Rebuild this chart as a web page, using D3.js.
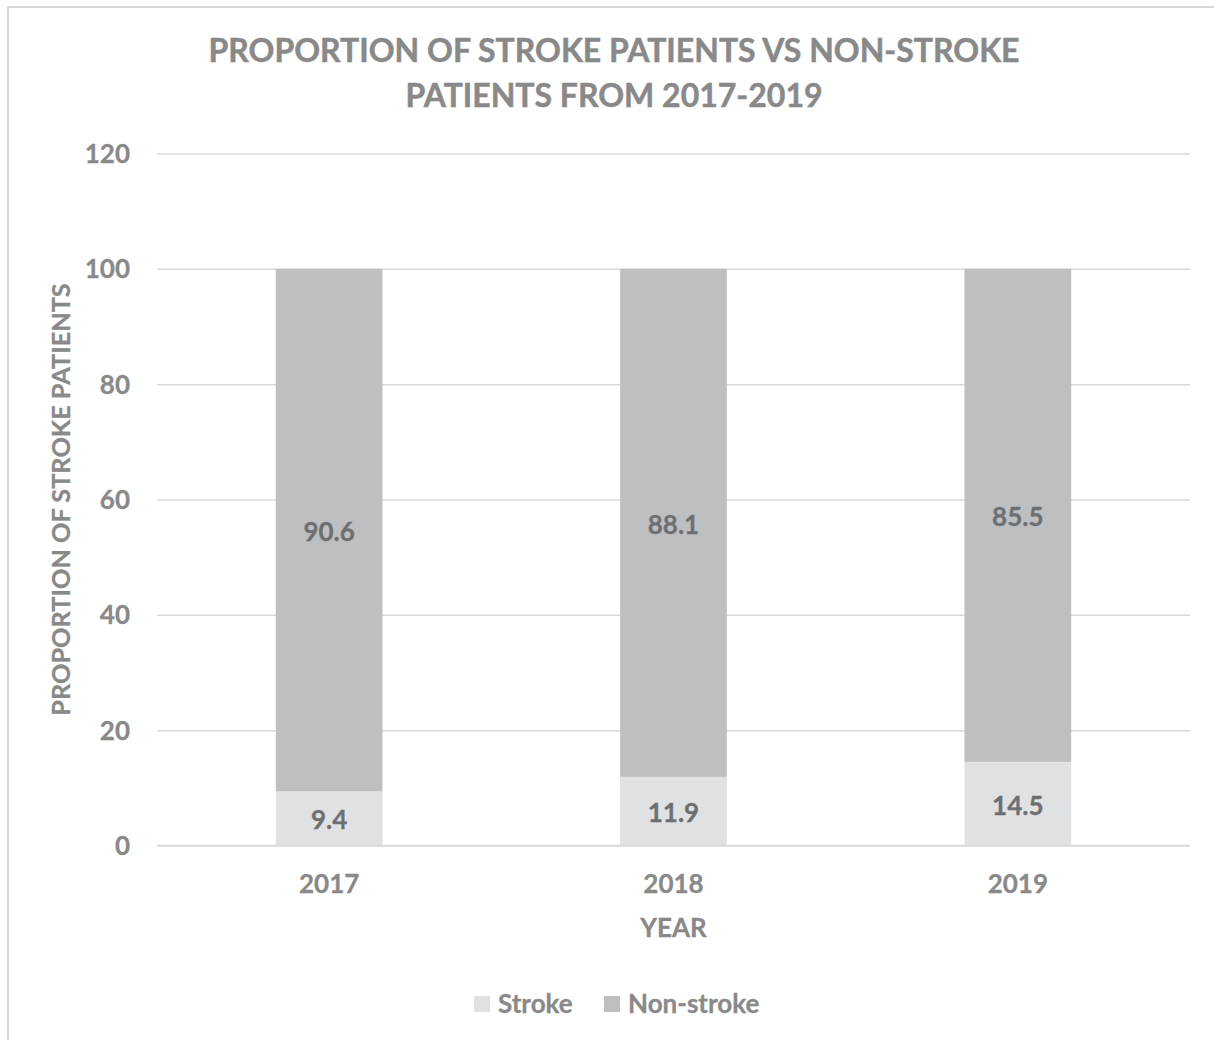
<!DOCTYPE html>
<html><head><meta charset="utf-8">
<script src="https://cdn.jsdelivr.net/npm/d3@7"></script>
<style>
html,body{margin:0;padding:0;background:#fff;}
svg{display:block;}
text{font-family:Lato,"Open Sans",sans-serif;font-weight:700;}
</style></head>
<body>
<svg id="chart" width="1214" height="1040"></svg>
<script>
const years = ["2017", "2018", "2019"];
const stroke = [9.4, 11.9, 14.5];
const nonStroke = [90.6, 88.1, 85.5];
const yTicks = [0, 20, 40, 60, 80, 100, 120];
const seriesNames = ["Stroke", "Non-stroke"];
const titleLines = ["PROPORTION OF STROKE PATIENTS VS NON-STROKE", "PATIENTS FROM 2017-2019"];
const xTitle = "YEAR";
const yTitle = "PROPORTION OF STROKE PATIENTS";

(function () {
const colors = {Stroke: "#e0e1e3", "Non-stroke": "#bebfc1"};
const textCol = "#898989";
const labelCol = "#6e6f71";

const svg = d3.select("#chart");

// outer border
svg.append("rect").attr("x", 8).attr("y", 7).attr("width", 1300).attr("height", 1100)
  .attr("fill", "#fff").attr("stroke", "#d9d9d9").attr("stroke-width", 2);

const pL = 157, pR = 1190, pT = 153.5, pB = 845.5;
const y = d3.scaleLinear().domain([0, 120]).range([pB, pT]);
const x = d3.scaleBand().domain(years).range([pL, pR]).paddingInner(0.69).paddingOuter(0.345);

// gridlines
const yAxis = d3.axisLeft(y).tickValues(yTicks).tickSize(-(pR - pL)).tickFormat(d => d);
const gy = svg.append("g").attr("transform", `translate(${pL},0)`).call(yAxis);
gy.select(".domain").remove();
gy.selectAll(".tick line").attr("stroke", "#d9d9d9").attr("stroke-width", 1.5);
gy.selectAll(".tick text").attr("x", -27).attr("dy", "0.35em")
  .attr("fill", textCol).style("font-size", "26px").style("font-family", "Lato").style("font-weight", 700)
  .attr("stroke", textCol).attr("stroke-width", 0.3);

// stacked data
const data = years.map((yr, i) => ({year: yr, Stroke: stroke[i], "Non-stroke": nonStroke[i]}));
const stack = d3.stack().keys(seriesNames)(data);

const layers = svg.append("g").selectAll("g").data(stack).join("g")
  .attr("fill", d => colors[d.key]);
layers.selectAll("rect").data(d => d).join("rect")
  .attr("x", d => x(d.data.year))
  .attr("width", x.bandwidth())
  .attr("y", d => y(d[1]))
  .attr("height", d => y(d[0]) - y(d[1]));

// data labels
const lbl = svg.append("g");
stack.forEach(layer => {
  layer.forEach(d => {
    lbl.append("text")
      .attr("x", x(d.data.year) + x.bandwidth() / 2)
      .attr("y", (y(d[0]) + y(d[1])) / 2 + 2)
      .attr("dy", "0.35em")
      .attr("text-anchor", "middle")
      .attr("fill", labelCol)
      .attr("stroke", labelCol).attr("stroke-width", 0.3)
      .style("font-size", "26px")
      .text(d.data[layer.key]);
  });
});

// x axis
const xAxis = d3.axisBottom(x).tickSize(0);
const gx = svg.append("g").attr("transform", `translate(0,${pB})`).call(xAxis);
gx.select(".domain").attr("stroke", "#d9d9d9").attr("stroke-width", 1.5)
  .attr("d", `M${pL},0H${pR}`);
gx.selectAll(".tick text").attr("y", 47).attr("dy", 0)
  .attr("fill", textCol).style("font-size", "26px").style("font-family", "Lato").style("font-weight", 700)
  .attr("stroke", textCol).attr("stroke-width", 0.3);

// title
svg.append("g").selectAll("text").data(titleLines).join("text")
  .attr("x", 614).attr("y", (d, i) => 62 + i * 45)
  .attr("text-anchor", "middle").attr("fill", textCol)
  .attr("stroke", textCol).attr("stroke-width", 0.5)
  .style("font-size", "32px")
  .text(d => d);

// axis titles
svg.append("text").attr("x", 673.5).attr("y", 937).attr("text-anchor", "middle")
  .attr("fill", textCol).attr("stroke", textCol).attr("stroke-width", 0.3)
  .style("font-size", "26px").text(xTitle);
svg.append("text").attr("transform", `translate(70,${(pT + pB) / 2}) rotate(-90)`)
  .attr("text-anchor", "middle").attr("fill", textCol).attr("stroke", textCol).attr("stroke-width", 0.3)
  .style("font-size", "25.3px").text(yTitle);

// legend
const legX = [474, 604];
const leg = svg.append("g");
seriesNames.forEach((s, i) => {
  leg.append("rect").attr("x", legX[i]).attr("y", 996).attr("width", 16).attr("height", 16).attr("fill", colors[s]);
  leg.append("text").attr("x", legX[i] + 24).attr("y", 1013).attr("fill", textCol)
    .attr("stroke", textCol).attr("stroke-width", 0.3)
    .style("font-size", "26px").text(s);
});
})();
</script>
</body></html>
